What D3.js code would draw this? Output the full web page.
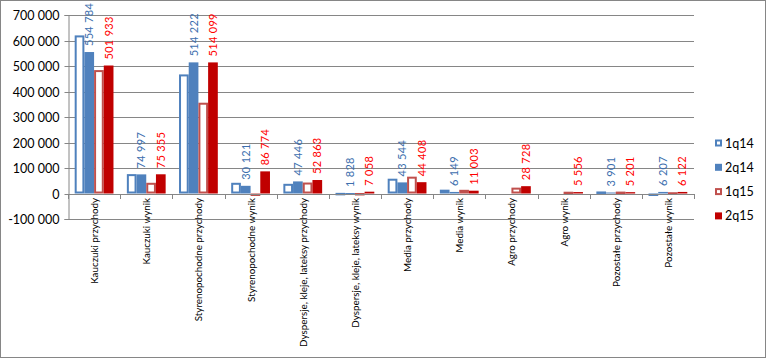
<!DOCTYPE html>
<html><head><meta charset="utf-8">
<script src="https://cdn.jsdelivr.net/npm/d3@7"></script>
<style>
html,body{margin:0;padding:0;background:#fff;}
svg{display:block;font-family:Lato,"Open Sans",sans-serif;}
</style></head>
<body><svg id="chart" width="767" height="359"></svg>
<script>
const categories = ["Kauczuki przychody","Kauczuki wynik","Styrenopochodne przychody","Styrenopochodne wynik","Dyspersje, kleje, lateksy przychody","Dyspersje, kleje, lateksy wynik","Media przychody","Media wynik","Agro przychody","Agro wynik","Pozostałe przychody","Pozostałe wynik"];
const seriesNames = ["1q14","2q14","1q15","2q15"];
const v1q14 = [620000, 76000, 467000, 42000, 38000, 2500, 58000, 15000, null, null, 8000, -7000];
const v2q14 = [554784, 74997, 514222, 30121, 47446, 1828, 43544, 6149, null, null, 3901, 6207];
const v1q15 = [484000, 42000, 356000, -6000, 43000, 2000, 66000, 14500, 23000, 7000, 7500, 5000];
const v2q15 = [501933, 75355, 514099, 86774, 52863, 7058, 44408, 11003, 28728, 5556, 5201, 6122];
const yTicks = [-100000, 0, 100000, 200000, 300000, 400000, 500000, 600000, 700000];

const seriesValues = [v1q14, v2q14, v1q15, v2q15];
const seriesStyle = [
  {fill:"#fff", stroke:"#4F81BD", outline:true, label:null},
  {fill:"#4F81BD", stroke:null, outline:false, label:"#3D6FAE"},
  {fill:"#fff", stroke:"#C0504D", outline:true, label:null},
  {fill:"#C00000", stroke:null, outline:false, label:"#FF0000"}
];

const loc = d3.formatLocale({decimal:",", thousands:" ", grouping:[3], currency:["",""], minus:"-"});
const fmt = loc.format(",d");

const svg = d3.select("#chart");
svg.append("rect").attr("x",0.5).attr("y",0.5).attr("width",765).attr("height",357)
  .attr("fill","#fff").attr("stroke","#868686").attr("stroke-width",1);

const x0 = 68, x1 = 694;
const y = d3.scaleLinear().domain([-100000, 700000]).range([219, 15]);
const x = d3.scaleBand().domain(categories).range([x0, x1]).padding(0);
const xs = d3.scaleBand().domain(seriesNames).range([0, x.bandwidth()]).paddingInner(0).paddingOuter(0.69);

// gridlines
svg.append("g").selectAll("line").data(yTicks).join("line")
  .attr("x1", x0).attr("x2", x1)
  .attr("y1", d => Math.round(y(d)) + 0.5).attr("y2", d => Math.round(y(d)) + 0.5)
  .attr("stroke", "#868686").attr("stroke-width", 1);

// y axis
const yAxis = svg.append("g").attr("transform", `translate(${x0 + 0.5},0)`)
  .call(d3.axisLeft(y).tickValues(yTicks).tickFormat(fmt).tickSize(4).tickPadding(5));
yAxis.select(".domain").attr("stroke", "#868686");
yAxis.selectAll(".tick line").attr("stroke", "#868686");
yAxis.selectAll(".tick text").attr("fill", "#000").style("font-size", "12.5px").style("font-family", "Lato");
yAxis.selectAll(".tick").attr("transform", d => `translate(0,${Math.round(y(d)) + 0.5})`);

// bars
const zeroY = y(0);
seriesNames.forEach((s, i) => {
  const st = seriesStyle[i];
  const data = categories.map((c, k) => ({c, v: seriesValues[i][k]})).filter(d => d.v !== null);
  const g = svg.append("g");
  g.selectAll("rect").data(data).join("rect")
    .attr("x", d => x(d.c) + xs(s) + (st.outline ? 1 : 0))
    .attr("width", xs.bandwidth() - (st.outline ? 2 : 0))
    .attr("y", d => Math.min(y(d.v), zeroY) + (st.outline ? 1 : 0))
    .attr("height", d => Math.max(Math.abs(y(d.v) - zeroY) - (st.outline ? 2 : 0), st.outline ? 0.5 : 1))
    .attr("fill", st.fill)
    .attr("stroke", st.stroke || "none")
    .attr("stroke-width", st.outline ? 2 : 0);
  if (st.label) {
    g.selectAll("text").data(data).join("text")
      .attr("transform", d => `translate(${x(d.c) + xs(s) + xs.bandwidth() / 2 + 4},${Math.min(y(d.v), zeroY) - 6}) rotate(-90)`)
      .attr("text-anchor", "start")
      .attr("fill", st.label)
      .style("font-size", "11px")
      .style("letter-spacing", "0.3px")
      .text(d => fmt(d.v));
  }
});

// x axis line at zero and ticks
const xa = svg.append("g");
xa.append("line").attr("x1", x0).attr("x2", x1)
  .attr("y1", Math.round(zeroY) + 0.5).attr("y2", Math.round(zeroY) + 0.5)
  .attr("stroke", "#868686");
const bounds = categories.map(c => x(c)).concat([x1]);
xa.selectAll("line.tk").data(bounds).join("line").attr("class", "tk")
  .attr("x1", d => Math.round(d) + 0.5).attr("x2", d => Math.round(d) + 0.5)
  .attr("y1", Math.round(zeroY)).attr("y2", Math.round(zeroY) + 5)
  .attr("stroke", "#868686");
xa.selectAll("text").data(categories).join("text")
  .attr("transform", d => `translate(${x(d) + x.bandwidth() / 2 + 4},${Math.round(zeroY) + 4}) rotate(-90)`)
  .attr("text-anchor", "end")
  .attr("fill", "#000")
  .style("font-size", "9.8px")
  .text(d => d);

// legend
const lg = svg.append("g");
seriesNames.forEach((s, i) => {
  const st = seriesStyle[i];
  const cy = 143 + i * 24.3;
  lg.append("rect")
    .attr("x", st.outline ? 716 : 715).attr("y", cy - (st.outline ? 2.5 : 3.5))
    .attr("width", st.outline ? 5 : 7).attr("height", st.outline ? 5 : 7)
    .attr("fill", st.fill).attr("stroke", st.stroke || "none").attr("stroke-width", st.outline ? 2 : 0);
  lg.append("text").attr("x", 725).attr("y", cy + 4.5)
    .attr("fill", "#000").style("font-size", "12.5px").text(s);
});
</script></body></html>
